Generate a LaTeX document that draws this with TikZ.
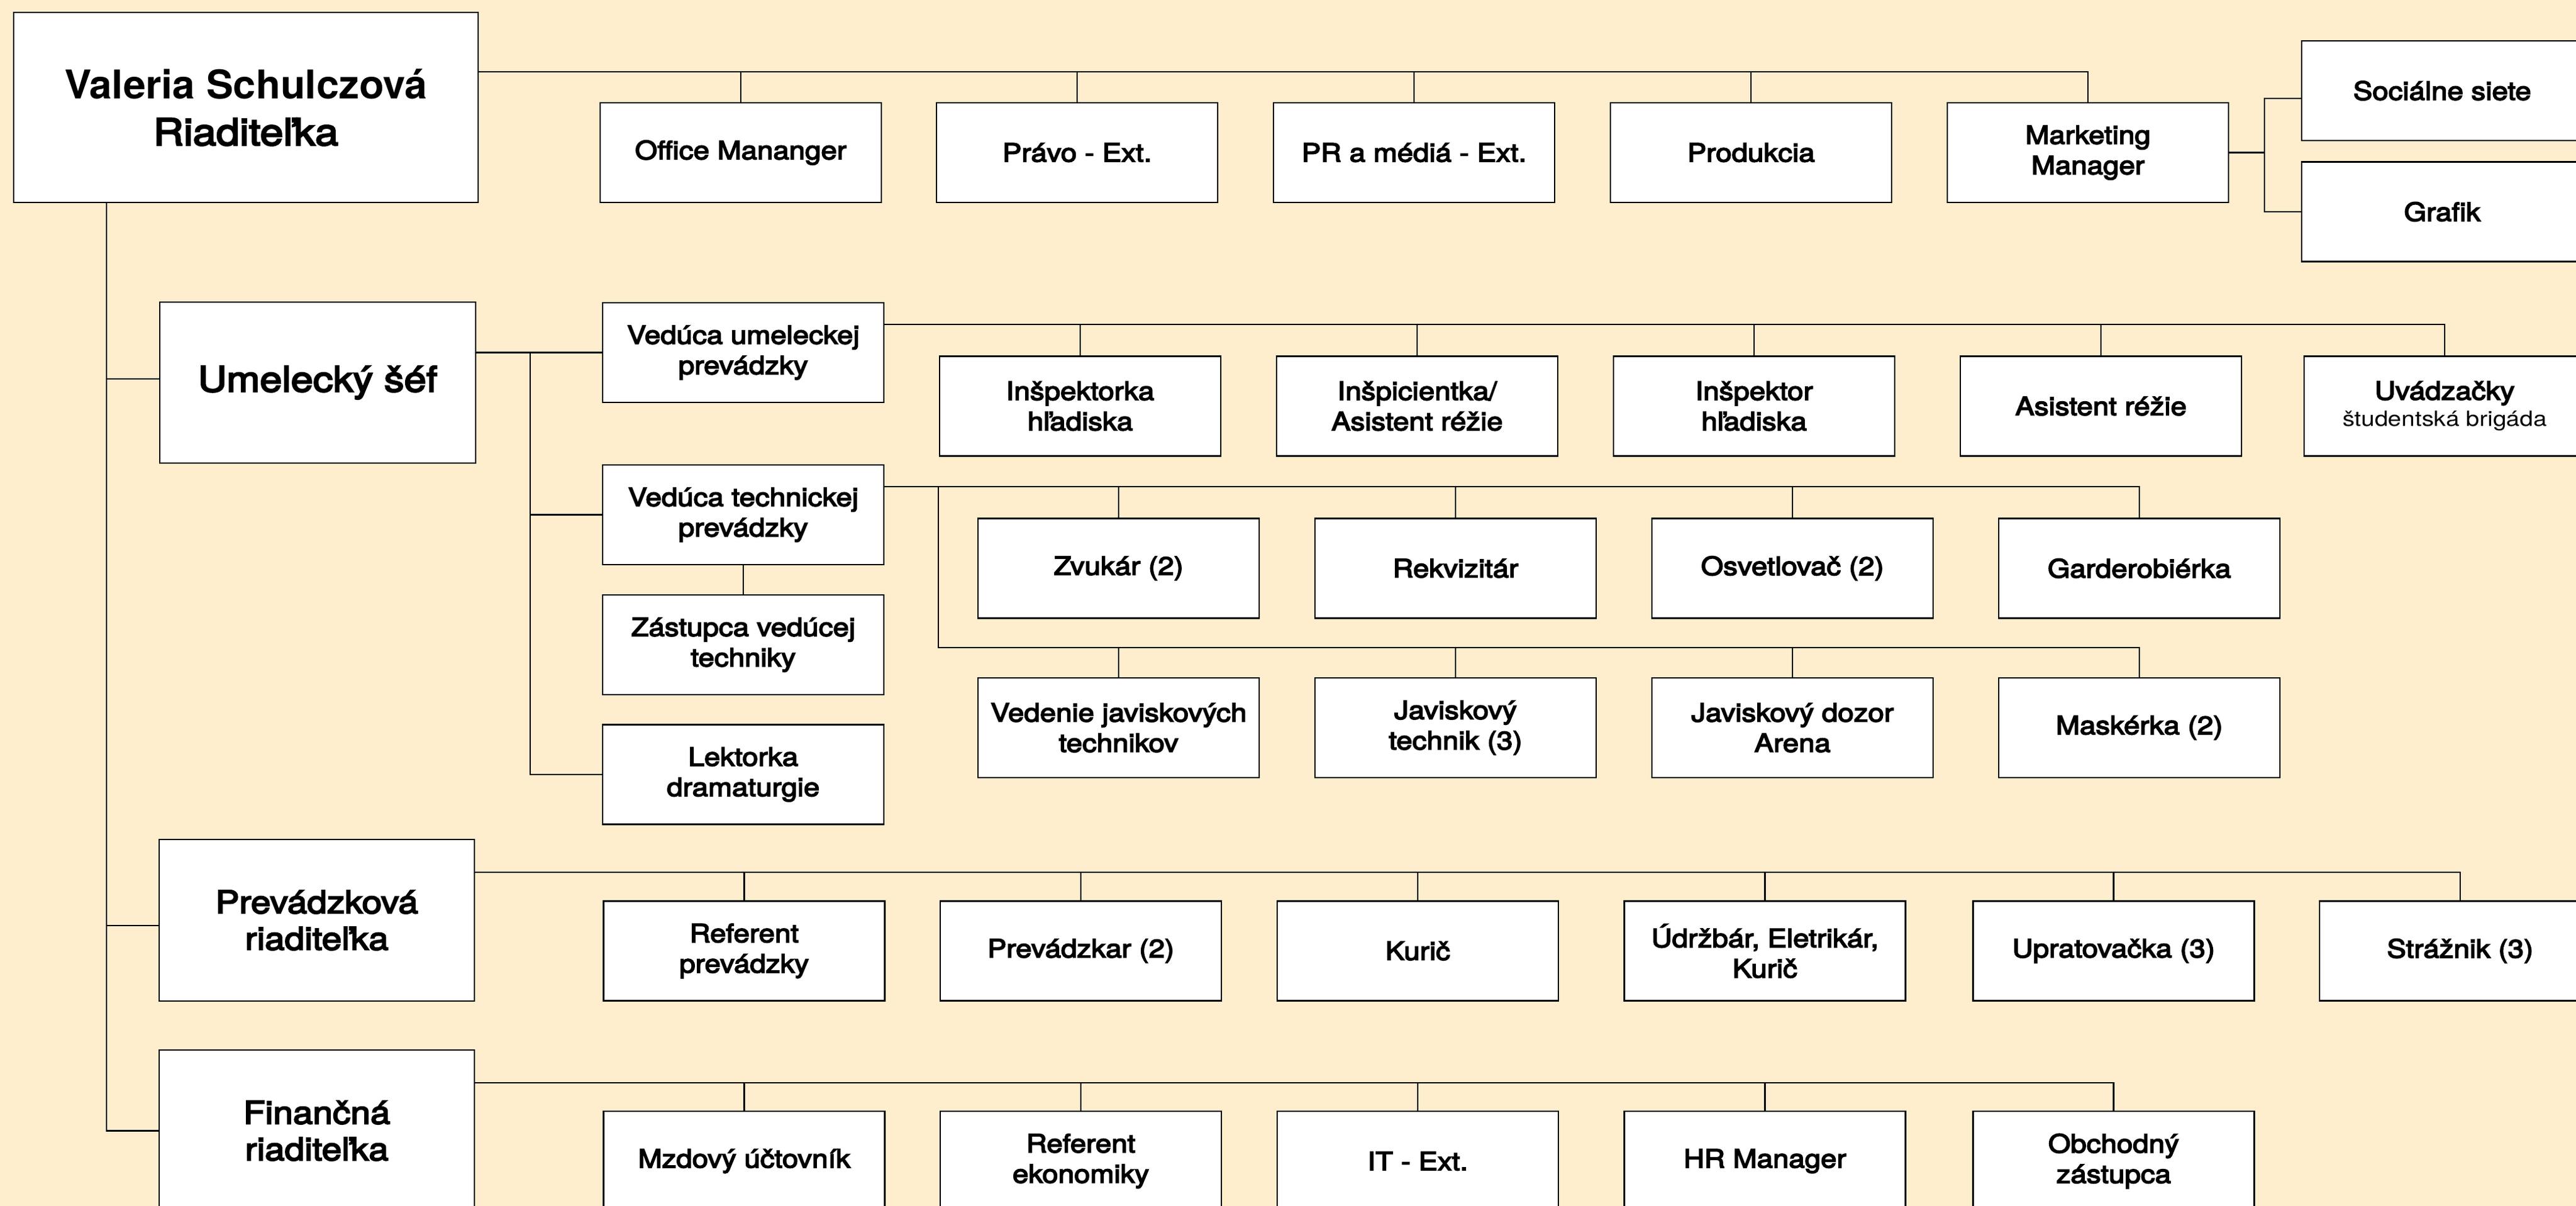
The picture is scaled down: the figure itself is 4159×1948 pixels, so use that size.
\documentclass[tikz,border=0pt]{standalone}
\usepackage{fontspec}
\setmainfont{TeX Gyre Heros}
\newfontfamily\medf{TeX Gyre Heros}[FakeBold=4,FakeStretch=1.13]
\newfontfamily\regf{TeX Gyre Heros}[FakeStretch=1.15]
\newfontfamily\bldf{TeX Gyre Heros}[FakeStretch=1.02]
\definecolor{bg}{RGB}{255,238,206}
\tikzset{
  box/.style={draw=black, fill=white, line width=2.2pt, minimum width=454pt,
    minimum height=161pt, inner sep=0pt, align=center,
    font=\medf\fontsize{41}{49}\selectfont},
  head/.style={box, minimum width=509pt, minimum height=261pt,
    font=\medf\fontsize{51}{59}\selectfont},
  ln/.style={line width=2.2pt, line cap=rect},
}
\begin{document}
\begin{tikzpicture}[x=1pt,y=-1pt]
\useasboundingbox (0,0) rectangle (4159,1948);
\fill[bg] (0,0) rectangle (4159,1948);

% level coordinates
\coordinate (yT) at (0,116);
\coordinate (yS) at (0,159);
\coordinate (yU) at (0,524);
\coordinate (yV) at (0,786);
\coordinate (yW) at (0,1046);
\coordinate (yP) at (0,1409);
\coordinate (yF) at (0,1749);
\coordinate (yLu) at (0,612);
\coordinate (yLp) at (0,1495);
\coordinate (lv) at (172,0);
\coordinate (uj) at (856,0);
\coordinate (tj) at (1515,0);
\coordinate (mkj) at (3656,0);

% top
\node[box, minimum width=750pt, minimum height=307pt, font=\medf\fontsize{60}{75}\selectfont] (val) at (397,173.5)
  {{\bldf\bfseries\fontsize{64}{75}\selectfont Valeria Schulczová}\\Riaditeľka};
\node[box] (office) at (1196,246.5) {Office Mananger};
\node[box] (pravo) at (1739,246.5) {Právo - Ext.};
\node[box] (prmed) at (2283,246.5) {PR a médiá - Ext.};
\node[box] (prod) at (2827,246.5) {Produkcia};
\node[box] (mkt) at (3371,246.5) {Marketing\\Manager};
\node[box] (soc) at (3943,146.5) {Sociálne siete};
\node[box] (graf) at (3943,342) {Grafik};

% umelecky
\node[head, minimum width=510pt, minimum height=260pt, font=\medf\fontsize{57}{66}\selectfont] (ume) at (513,618) {Umelecký šéf};
\node[box] (vu) at (1200,569.5) {Vedúca umeleckej\\prevádzky};
\node[box] (vt) at (1200,831.5) {Vedúca technickej\\prevádzky};
\node[box] (zas) at (1200,1041.5) {Zástupca vedúcej\\techniky};
\node[box] (lek) at (1200,1251) {Lektorka\\dramaturgie};

\node[box] (i1) at (1744,656) {Inšpektorka\\hľadiska};
\node[box] (i2) at (2288,656) {Inšpicientka/\\Asistent réžie};
\node[box] (i3) at (2832,656) {Inšpektor\\hľadiska};
\node[box] (i4) at (3392,656) {Asistent réžie};
\node[box] (i5) at (3947,656) {Uvádzačky\\[-6pt]{\regf\fontsize{34}{42}\selectfont študentská brigáda}};

\node[box] (z1) at (1806,918) {Zvukár (2)};
\node[box] (z2) at (2350,918) {Rekvizitár};
\node[box] (z3) at (2894,918) {Osvetlovač (2)};
\node[box] (z4) at (3454,918) {Garderobiérka};

\node[box] (v1) at (1806,1175.5) {Vedenie javiskových\\technikov};
\node[box] (v2) at (2350,1175.5) {Javiskový\\technik (3)};
\node[box] (v3) at (2894,1175.5) {Javiskový dozor\\Arena};
\node[box] (v4) at (3454,1175.5) {Maskérka (2)};

% prevadzkova
\node[head] (prev) at (511.5,1486.5) {Prevádzková\\riaditeľka};
\node[box] (p1) at (1201.5,1536) {Referent\\prevádzky};
\node[box] (p2) at (1745,1536) {Prevádzkar (2)};
\node[box] (p3) at (2289,1536) {Kurič};
\node[box] (p4) at (2849.5,1536) {Údržbár, Eletrikár,\\Kurič};
\node[box] (p5) at (3412.5,1536) {Upratovačka (3)};
\node[box] (p6) at (3972,1536) {Strážnik (3)};

% financna
\node[head] (fin) at (511.5,1826.5) {Finančná\\riaditeľka};
\node[box] (f1) at (1201.5,1875.5) {Mzdový účtovník};
\node[box] (f2) at (1745,1875.5) {Referent\\ekonomiky};
\node[box] (f3) at (2289,1875.5) {IT - Ext.};
\node[box] (f4) at (2849.5,1875.5) {HR Manager};
\node[box] (f5) at (3412.5,1875.5) {Obchodný\\zástupca};

% connectors: top
\draw[ln] (val.east |- yT) -- (mkt.north |- yT);
\foreach \n in {office,pravo,prmed,prod,mkt} \draw[ln] (\n.north) -- (\n.north |- yT);
\draw[ln] (mkt.east) -- (mkj |- mkt.east);
\draw[ln] (mkj |- yS) -- (mkj |- graf.west);
\draw[ln] (mkj |- yS) -- (soc.west |- yS);
\draw[ln] (mkj |- graf.west) -- (graf.west);

% left spine
\draw[ln] (lv |- val.south) -- (lv |- fin.west);
\draw[ln] (lv |- yLu) -- (ume.west |- yLu);
\draw[ln] (lv |- yLp) -- (prev.west |- yLp);
\draw[ln] (lv |- fin.west) -- (fin.west);

% umelecky branch
\draw[ln] (ume.east |- vu.west) -- (vu.west);
\draw[ln] (uj |- vu.west) -- (uj |- lek.west);
\draw[ln] (uj |- vt.west) -- (vt.west);
\draw[ln] (uj |- lek.west) -- (lek.west);
\draw[ln] (vt.south) -- (zas.north);

\draw[ln] (vu.east |- yU) -- (i5.north |- yU);
\foreach \n in {i1,i2,i3,i4,i5} \draw[ln] (\n.north) -- (\n.north |- yU);

\draw[ln] (vt.east |- yV) -- (z4.north |- yV);
\foreach \n in {z1,z2,z3,z4} \draw[ln] (\n.north) -- (\n.north |- yV);
\draw[ln] (tj |- yV) -- (tj |- yW) -- (v4.north |- yW);
\foreach \n in {v1,v2,v3,v4} \draw[ln] (\n.north) -- (\n.north |- yW);

% prevadzkova
\draw[ln] (prev.east |- yP) -- (p6.north |- yP);
\foreach \n in {p1,p2,p3,p4,p5,p6} \draw[ln] (\n.north) -- (\n.north |- yP);

% financna
\draw[ln] (fin.east |- yF) -- (f5.north |- yF);
\foreach \n in {f1,f2,f3,f4,f5} \draw[ln] (\n.north) -- (\n.north |- yF);
\end{tikzpicture}
\end{document}
